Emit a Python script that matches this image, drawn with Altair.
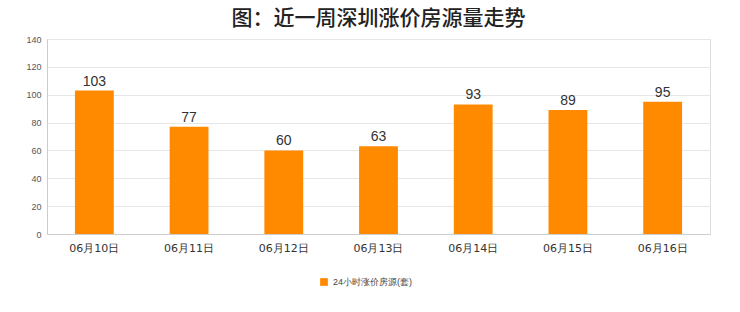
import altair as alt
import pandas as pd

dates = ["06月10日", "06月11日", "06月12日", "06月13日", "06月14日", "06月15日", "06月16日"]
values = [103, 77, 60, 63, 93, 89, 95]
series = "24小时涨价房源(套)"

df = pd.DataFrame({"date": dates, "value": values, "series": [series] * len(dates)})

base = alt.Chart(df).encode(
    x=alt.X("date:N", sort=dates, title=None,
            scale=alt.Scale(paddingInner=0.59, paddingOuter=0.295),
            axis=alt.Axis(labelAngle=0, labelFontSize=11, labelColor="#333333",
                          domainColor="#cccccc", ticks=False, labelPadding=8,
                          labelFont="DejaVu Sans")),
    y=alt.Y("value:Q", title=None,
            scale=alt.Scale(domain=[0, 140], nice=False),
            axis=alt.Axis(values=[0, 20, 40, 60, 80, 100, 120, 140], labelFontSize=9,
                          labelColor="#555555", gridColor="#e6e6e6", domainColor="#cccccc",
                          ticks=False, labelPadding=6)),
)

bars = base.mark_bar(color="#FF8A00").encode(
    color=alt.Color("series:N", scale=alt.Scale(range=["#FF8A00"]),
                    legend=alt.Legend(orient="none", legendX=272, legendY=238, title=None,
                                      symbolType="square", symbolSize=60, labelFontSize=9,
                                      labelColor="#444444"))
)
labels = base.mark_text(dy=-9, fontSize=14, color="#333333").encode(text="value:Q")

chart = (bars + labels).properties(
    width=663, height=195,
    title=alt.Title("图：近一周深圳涨价房源量走势", fontSize=21, fontWeight=500,
                    color="#222222", anchor="middle", offset=6,
                    font="Noto Sans CJK SC"),
    autosize=alt.AutoSizeParams(type="none"),
    padding={"left": 47, "top": 39, "right": 30, "bottom": 78},
).configure_view(stroke="#e0e0e0").configure(background="white")

chart.save("out.html", embed_options={"renderer": "svg", "actions": False})
